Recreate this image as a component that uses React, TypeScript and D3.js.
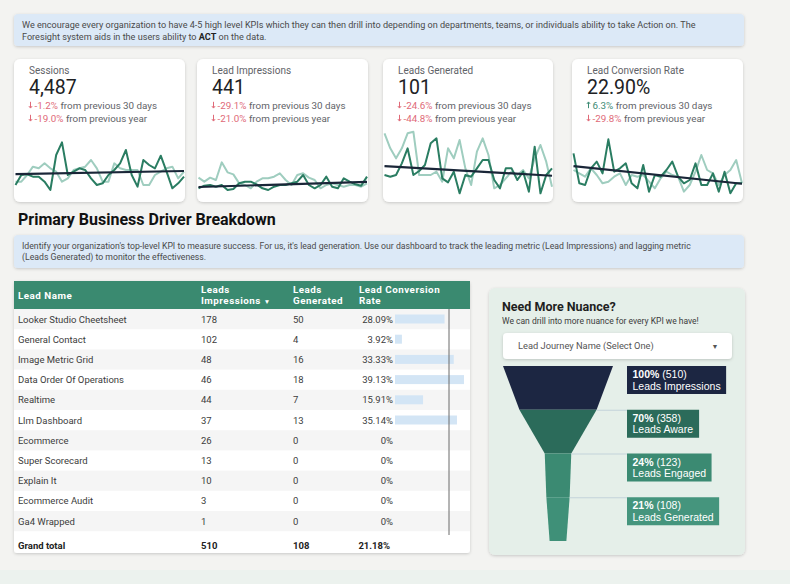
import React from "react";
import * as d3 from "d3";

const FONT = "Roboto, 'Liberation Sans', sans-serif";

// KPI scorecards
const kpiTitles = ["Sessions", "Lead Impressions", "Leads Generated", "Lead Conversion Rate"];
const kpiValues = ["4,487", "441", "101", "22.90%"];
const kpiDelta30 = [-1.2, -29.1, -24.6, 6.3];
const kpiDeltaYear = [-19.0, -21.0, -44.8, -29.8];

// sparkline series (current period / previous period), daily
const sessionsCurrent = [60, 90, 92, 85, 85, 70, 45, 150, 188, 90, 100, 110, 105, 80, 60, 65, 90, 105, 125, 165, 90, 55, 135, 120, 110, 148, 100, 50, 65, 85];
const sessionsPrevious = [70, 70, 90, 115, 110, 125, 110, 100, 70, 80, 105, 110, 115, 135, 110, 70, 70, 125, 110, 105, 105, 105, 60, 60, 90, 100, 110, 115, 80, 100];
const impressionsCurrent = [50, 58, 60, 55, 60, 45, 48, 65, 70, 70, 62, 50, 45, 55, 60, 60, 65, 70, 90, 60, 50, 60, 85, 55, 50, 80, 70, 62, 58, 85];
const impressionsPrevious = [82, 70, 82, 75, 128, 98, 92, 65, 60, 50, 70, 80, 80, 85, 95, 75, 60, 90, 95, 82, 75, 50, 60, 65, 60, 55, 60, 60, 55, 65];
const generatedCurrent = [90, 85, 90, 125, 170, 90, 102, 120, 185, 200, 80, 68, 100, 35, 90, 85, 110, 135, 135, 75, 50, 110, 110, 75, 100, 40, 175, 35, 90, 110];
const generatedPrevious = [215, 170, 140, 170, 215, 220, 90, 90, 90, 100, 70, 170, 140, 195, 110, 60, 160, 200, 150, 50, 60, 80, 100, 90, 105, 80, 140, 180, 130, 55];
const conversionCurrent = [155, 65, 60, 110, 130, 95, 197, 100, 110, 125, 65, 50, 120, 40, 90, 85, 105, 130, 85, 65, 75, 125, 60, 60, 95, 40, 100, 35, 65, 65];
const conversionPrevious = [105, 95, 85, 110, 90, 65, 70, 85, 95, 60, 90, 85, 90, 70, 50, 80, 100, 90, 85, 40, 60, 100, 150, 105, 95, 60, 90, 105, 135, 65];

const sparkCurrent = [sessionsCurrent, impressionsCurrent, generatedCurrent, conversionCurrent];
const sparkPrevious = [sessionsPrevious, impressionsPrevious, generatedPrevious, conversionPrevious];

// lead table
const leadNames = ["Looker Studio Cheetsheet", "General Contact", "Image Metric Grid", "Data Order Of Operations", "Realtime", "Llm Dashboard", "Ecommerce", "Super Scorecard", "Explain It", "Ecommerce Audit", "Ga4 Wrapped"];
const leadImpressions = [178, 102, 48, 46, 44, 37, 26, 13, 10, 3, 1];
const leadsGenerated = [50, 4, 16, 18, 7, 13, 0, 0, 0, 0, 0];
const conversionRates = [28.09, 3.92, 33.33, 39.13, 15.91, 35.14, 0, 0, 0, 0, 0];
const grandTotals = ["510", "108", "21.18%"];

// funnel
const funnelStages = ["Leads Impressions", "Leads Aware", "Leads Engaged", "Leads Generated"];
const funnelCounts = [510, 358, 123, 108];

const cards = [
  { x: 14, w: 171 },
  { x: 197, w: 171 },
  { x: 383, w: 170 },
  { x: 572, w: 171 },
];

const measure = (txt: string, font: string) => {
  const ctx = document.createElement("canvas").getContext("2d")!;
  ctx.font = font;
  return ctx.measureText(txt).width;
};

// least squares trend of the current period
const trend = (vals: number[]) => {
  const n = vals.length;
  const mx = (n - 1) / 2;
  const my = d3.mean(vals)!;
  let num = 0,
    den = 0;
  vals.forEach((v, i) => {
    num += (i - mx) * (v - my);
    den += (i - mx) * (i - mx);
  });
  const b = num / den;
  return [my - b * mx, my + b * (n - 1 - mx)];
};

const Arrow = ({ x, y, up, color }: { x: number; y: number; up: boolean; color: string }) => (
  <path
    transform={`translate(${x},${y}) scale(1,${up ? -1 : 1})`}
    d="M0,-3.2V2.8M-1.6,1.1L0,3.1L1.6,1.1"
    fill="none"
    stroke={color}
    strokeWidth={1}
  />
);

export default function App() {
  const red = "#e06a78";
  const green = "#3d8b74";
  const sparkY = d3.scaleLinear().domain([0, 240]).range([205, 125]);

  // table scales
  const rowY = (i: number) => 309 + i * 20.2;
  const barX = d3
    .scaleLinear()
    .domain([0, d3.max(conversionRates)!])
    .range([0, 69]);
  const fmtRate = (v: number) => (v === 0 ? "0%" : `${v.toFixed(2)}%`);

  // funnel scales
  const fw = d3.scaleLinear().domain([0, funnelCounts[0]]).range([0, 110]);
  const fy = d3.scaleLinear().domain([0, funnelCounts.length]).range([366, 541]);
  const fcx = 558;
  const funnelFill = ["#1c2642", "#2b6b5a", "#3b8a72", "#3f9078"];
  const boxFill = ["#1c2642", "#2b6b5a", "#3b8a72", "#45957d"];
  const labelFont = "10.5px 'Liberation Sans', Arial, sans-serif";
  const boldFont = "bold 10.5px 'Liberation Sans', Arial, sans-serif";

  return (
    <svg
      width={790}
      height={584}
      style={{ position: "fixed", left: 0, top: 0, fontFamily: FONT }}
    >
      <defs>
        <filter id="sh" x="-10%" y="-10%" width="120%" height="130%">
          <feDropShadow dx="0" dy="1" stdDeviation="1.4" floodColor="#000" floodOpacity="0.18" />
        </filter>
        {cards.map((c, i) => (
          <clipPath id={`clip${i}`} key={i}>
            <rect x={c.x} y={59} width={c.w} height={143} rx={6} />
          </clipPath>
        ))}
      </defs>
      <rect width={790} height={584} fill="#f3f3f1" />
      <rect y={570} width={790} height={14} fill="#ecf2ee" />

      {/* top banner */}
      <rect x={14} y={14} width={730} height={32} rx={4} fill="#dce9f7" filter="url(#sh)" />
      <text x={22} y={28} fontSize={9.1} fill="#4a4a4a">
        We encourage every organization to have 4-5 high level KPIs which they can then drill into depending on departments, teams, or individuals ability to take Action on. The
      </text>
      <text x={22} y={39.5} fontSize={9.1} fill="#4a4a4a">
        Foresight system aids in the users ability to <tspan fontWeight="bold" fill="#222">ACT</tspan> on the data.
      </text>

      {/* KPI cards */}
      {cards.map((c, i) => {
        const cur = sparkCurrent[i];
        const prev = sparkPrevious[i];
        const sx = d3
          .scaleLinear()
          .domain([0, cur.length - 1])
          .range([c.x + 1.5, c.x + c.w - 1]);
        const ln = d3
          .line<number>()
          .x((_, j) => sx(j))
          .y((v) => sparkY(v));
        const [t0, t1] = trend(cur);
        const d30 = kpiDelta30[i];
        const dy = kpiDeltaYear[i];
        const c30 = d30 < 0 ? red : green;
        const cy = dy < 0 ? red : green;
        const tx = c.x + 15;
        return (
          <g key={i}>
            <rect x={c.x} y={59} width={c.w} height={143} rx={6} fill="#fff" filter="url(#sh)" />
            <text x={tx} y={73.5} fontSize={10} fill="#5f6368">
              {kpiTitles[i]}
            </text>
            <text x={tx} y={94} fontSize={19.5} fill="#202124">
              {kpiValues[i]}
            </text>
            <Arrow x={tx + 1.5} y={105} up={d30 > 0} color={c30} />
            <text x={tx + 5.5} y={108.5} fontSize={9.8} fill="#5f6368">
              <tspan fill={c30}>{`${d30 < 0 ? "-" : ""}${Math.abs(d30).toFixed(1)}%`}</tspan> from previous 30 days
            </text>
            <Arrow x={tx + 1.5} y={118} up={dy > 0} color={cy} />
            <text x={tx + 5.5} y={121.5} fontSize={9.8} fill="#5f6368">
              <tspan fill={cy}>{`${dy < 0 ? "-" : ""}${Math.abs(dy).toFixed(1)}%`}</tspan> from previous year
            </text>
            <g clipPath={`url(#clip${i})`}>
              <path d={ln(prev)!} fill="none" stroke="#9fcdbf" strokeWidth={2} strokeLinejoin="round" />
              <path d={ln(cur)!} fill="none" stroke="#2a7d62" strokeWidth={2} strokeLinejoin="round" />
              <line
                x1={sx(0)}
                x2={sx(cur.length - 1)}
                y1={sparkY(t0)}
                y2={sparkY(t1)}
                stroke="#1a2638"
                strokeWidth={2.2}
              />
            </g>
          </g>
        );
      })}

      {/* section */}
      <text x={18} y={224.5} fontSize={16} fontWeight="bold" fill="#111">
        Primary Business Driver Breakdown
      </text>
      <rect x={14} y={235} width={730} height={33} rx={4} fill="#dce9f7" filter="url(#sh)" />
      <text x={22} y={248.5} fontSize={8.7} fill="#4a4a4a">
        Identify your organization's top-level KPI to measure success. For us, it's lead generation. Use our dashboard to track the leading metric (Lead Impressions) and lagging metric
      </text>
      <text x={22} y={260} fontSize={8.7} fill="#4a4a4a">
        (Leads Generated) to monitor the effectiveness.
      </text>

      {/* table */}
      <rect x={14} y={281} width={456} height={272} rx={3} fill="#fff" filter="url(#sh)" />
      <rect x={14} y={281} width={456} height={28} fill="#3a8a70" />
      <g fill="#fff" fontSize={9.8} fontWeight="bold" letterSpacing={0.5}>
        <text x={18} y={299}>Lead Name</text>
        <text x={201} y={292.5}>Leads</text>
        <text x={201} y={304}>
          Impressions <tspan fontSize={6.5}>▼</tspan>
        </text>
        <text x={293} y={292.5}>Leads</text>
        <text x={293} y={304}>Generated</text>
        <text x={359} y={292.5}>Lead Conversion</text>
        <text x={359} y={304}>Rate</text>
      </g>
      {leadNames.map((name, i) => {
        const y0 = rowY(i);
        return (
          <g key={name} fontSize={9.5} fill="#3c3c3c">
            {i % 2 === 0 && <rect x={14} y={y0} width={456} height={20.2} fill="#f5f5f5" />}
            <text x={18} y={y0 + 13.5}>{name}</text>
            <text x={201} y={y0 + 13.5}>{leadImpressions[i]}</text>
            <text x={293} y={y0 + 13.5}>{leadsGenerated[i]}</text>
            <text x={393} y={y0 + 13.5} textAnchor="end">
              {fmtRate(conversionRates[i])}
            </text>
            <rect x={395} y={y0 + 5.5} width={barX(conversionRates[i])} height={9} fill="#d3e5f5" />
          </g>
        );
      })}
      <line x1={449} x2={449} y1={309} y2={535} stroke="#6a6a6a" strokeWidth={1} />
      <g fontSize={9.5} fontWeight="bold" fill="#222">
        <text x={18} y={548.5}>Grand total</text>
        <text x={201} y={548.5}>{grandTotals[0]}</text>
        <text x={293} y={548.5}>{grandTotals[1]}</text>
        <text x={390} y={548.5} textAnchor="end">{grandTotals[2]}</text>
      </g>

      {/* funnel panel */}
      <rect x={489} y={288} width={256} height={267} rx={6} fill="#e5efe9" filter="url(#sh)" />
      <text x={502} y={311} fontSize={12.5} fontWeight="bold" fill="#1f1f1f">
        Need More Nuance?
      </text>
      <text x={502} y={323.5} fontSize={8.5} fill="#3c3c3c">
        We can drill into more nuance for every KPI we have!
      </text>
      <rect x={503} y={333} width={229} height={26} rx={4} fill="#fff" filter="url(#sh)" />
      <text x={518} y={349} fontSize={9.3} fill="#555">
        Lead Journey Name (Select One)
      </text>
      <text x={715} y={348.5} fontSize={7} fill="#555" textAnchor="middle">
        ▼
      </text>

      {funnelCounts.map((cnt, i) => {
        const top = fy(i);
        const bot = fy(i + 1);
        const wTop = fw(cnt);
        const wBot = i < funnelCounts.length - 1 ? fw(funnelCounts[i + 1]) : fw(cnt) * 0.72;
        const pts: [number, number][] = [
          [fcx - wTop / 2, top],
          [fcx + wTop / 2, top],
          [fcx + wBot / 2, bot],
          [fcx - wBot / 2, bot],
        ];
        const pct = `${Math.round((cnt / funnelCounts[0]) * 100)}%`;
        const l1r = ` (${cnt})`;
        const tw = Math.max(
          measure(pct, boldFont) + measure(l1r, labelFont),
          measure(funnelStages[i], labelFont)
        );
        const bx = 627;
        return (
          <g key={i}>
            <path d={d3.line()(pts)! + "Z"} fill={funnelFill[i]} />
            {i > 0 && (
              <line x1={fcx + wTop / 2} x2={bx} y1={top + 0.5} y2={top + 0.5} stroke="#c3d3da" strokeWidth={1} />
            )}
            <rect x={bx} y={top} width={tw + 11} height={28} fill={boxFill[i]} />
            <text x={bx + 5.5} y={top + 12} fontSize={10.5} fill="#fff" fontFamily="'Liberation Sans', Arial, sans-serif">
              <tspan fontWeight="bold">{pct}</tspan>
              {l1r}
            </text>
            <text x={bx + 5.5} y={top + 23.5} fontSize={10.5} fill="#fff" fontFamily="'Liberation Sans', Arial, sans-serif">
              {funnelStages[i]}
            </text>
          </g>
        );
      })}
    </svg>
  );
}
